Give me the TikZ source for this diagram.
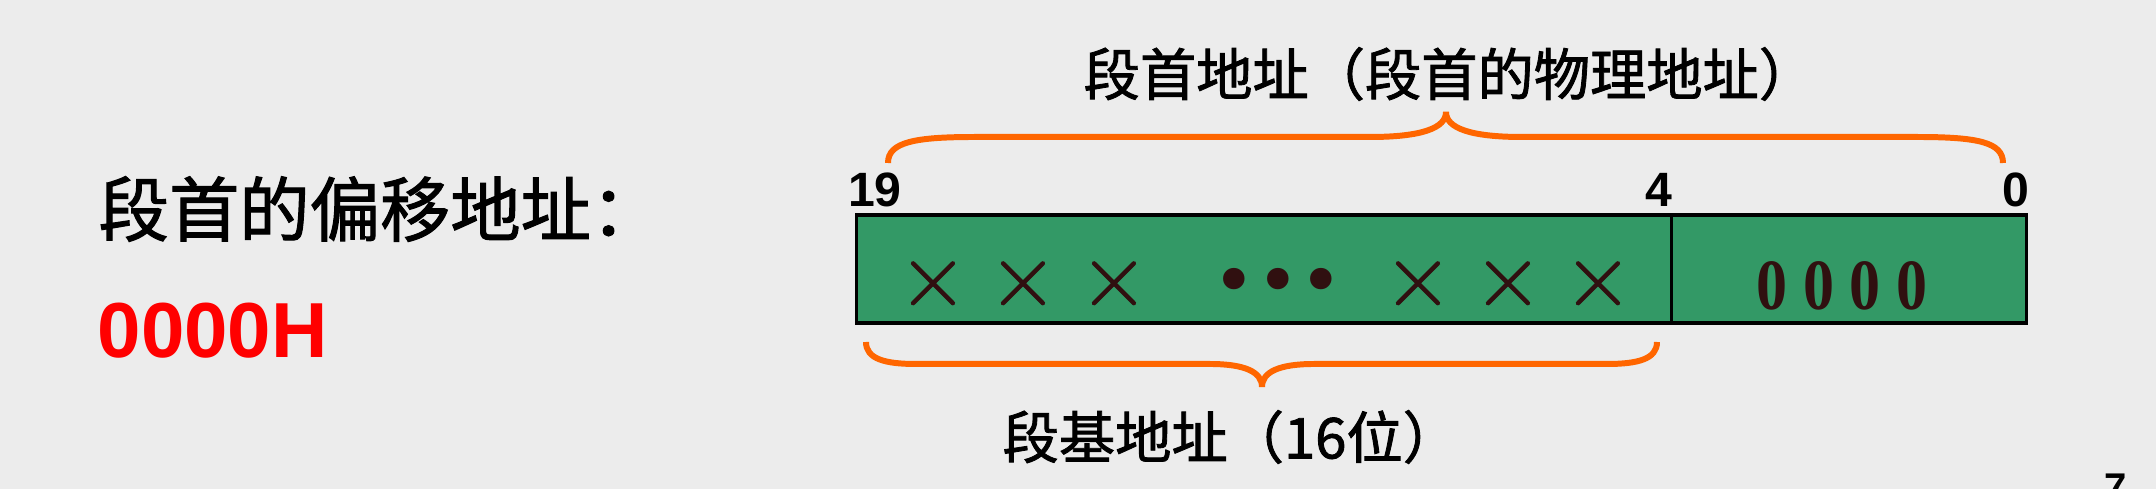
\documentclass[tikz,border=0pt]{standalone}
\usepackage{fontspec}
\newfontfamily\cjk[FakeBold=1.5]{Noto Sans CJK SC}
\newfontfamily\arialbold{Liberation Sans Bold}
\newfontfamily\timesbold[FakeStretch=0.86]{Liberation Serif Bold}
\newfontfamily\dotfont{DejaVu Sans}
\newfontfamily\crossfont[FakeBold=1.2]{Latin Modern Roman}
\usetikzlibrary{positioning}
\definecolor{bggray}{RGB}{236,236,236}
\definecolor{fieldgreen}{RGB}{51,153,102}
\definecolor{braceorange}{RGB}{255,102,0}
\definecolor{bitbrown}{RGB}{48,16,16}
\definecolor{hexred}{RGB}{255,0,0}
\tikzset{
  field/.style={draw=black, line width=0.9pt, fill=fieldgreen, inner sep=0pt, minimum height=1.08cm},
  bitno/.style={inner sep=0pt, anchor=base, font=\arialbold\fontsize{13.7}{16}\selectfont},
  cross/.style={inner sep=0pt, text=bitbrown, font=\crossfont\fontsize{27}{27}\selectfont},
  cjklbl/.style={inner sep=0pt, anchor=west, font=\cjk\fontsize{16}{16}\selectfont},
  brace/.style={draw=braceorange, line width=1.7pt}
}

\begin{document}
\begin{tikzpicture}[x=0.01cm, y=-0.01cm]

\fill[bggray] (0,0) rectangle (2156,489);
\useasboundingbox (0,0) rectangle (2156,489);

% offset of the segment start
\node[inner sep=0pt, anchor=west, font=\cjk\fontsize{20}{20}\selectfont] (offtxt) at (98,209) {段首的偏移地址：};
\node[inner sep=0pt, anchor=base west, text=hexred, font=\arialbold\fontsize{22.2}{24}\selectfont] (offval) at (97,358) {0000H};

% the 20 bit address
\node[field, minimum width=8.15cm] (hibits) at (1264.5,269) {};
\node[field, minimum width=3.54cm] (lobits) at (1849,269) {};

\node[cross] (x1) at (933,284) {×};
\node[cross] (x2) at (1023,284) {×};
\node[cross] (x3) at (1114,284) {×};
\node[inner sep=0pt, text=bitbrown, font=\dotfont\fontsize{21}{21}\selectfont] (gap) at (1278,287) {•••};
\node[cross] (x4) at (1418,284) {×};
\node[cross] (x5) at (1508,284) {×};
\node[cross] (x6) at (1598,284) {×};
\node[inner sep=0pt, anchor=base, text=bitbrown, font=\timesbold\fontsize{20.5}{21}\selectfont] (zeros) at (1842,310) {0 0 0 0};

\node[bitno] (b19) at (875,207) {19};
\node[bitno] (b4) at (1659,207) {4};
\node[bitno] (b0) at (2016,207) {0};

% braces
\coordinate (ptl) at (888,163);
\coordinate (ptr) at (2003,163);
\coordinate (pttip) at (1446,112);
\draw[brace] (ptl) .. controls (888,142) and (915,137) .. (975,137) -- (1370,137)
  .. controls (1422,137) and (1446,128) .. (pttip)
  .. controls (1446,128) and (1470,137) .. (1522,137) -- (1917,137)
  .. controls (1977,137) and (2003,142) .. (ptr);

\coordinate (pbl) at (866,342);
\coordinate (pbr) at (1657,342);
\coordinate (pbtip) at (1262,387);
\draw[brace] (pbl) .. controls (866,359) and (885,364) .. (916,364) -- (1210,364)
  .. controls (1245,364) and (1262,372) .. (pbtip)
  .. controls (1262,372) and (1279,364) .. (1314,364) -- (1607,364)
  .. controls (1638,364) and (1657,359) .. (pbr);

\node[cjklbl] (physlbl) at (1083,74) {段首地址（段首的物理地址）};
\node[cjklbl] (baselbl) at (1002,437) {段基地址（16位）};

\node[inner sep=0pt, anchor=north west, font=\arialbold\fontsize{11.4}{12}\selectfont] (pgno) at (2104,473) {7};

\end{tikzpicture}
\end{document}
